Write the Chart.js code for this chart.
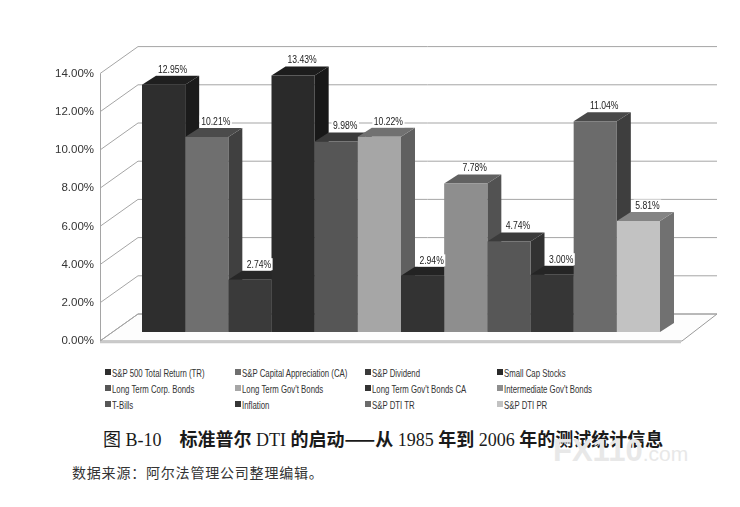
<!DOCTYPE html>
<html><head><meta charset="utf-8">
<script src="https://cdn.jsdelivr.net/npm/chart.js@4.4.0/dist/chart.umd.min.js"></script>
<style>
html,body{margin:0;padding:0;background:#fff;width:740px;height:507px;overflow:hidden;}
#wrap{position:relative;width:740px;height:507px;}
#c{position:absolute;left:0;top:0;}
.sq{position:absolute;width:6px;height:6px;}
.lt{position:absolute;font:11px "Liberation Sans",Arial,sans-serif;color:#333;white-space:nowrap;line-height:12px;transform:scaleX(0.71);transform-origin:0 50%;}
#cap{position:absolute;left:103px;top:425px;font-size:18px;font-family:"Liberation Serif","Noto Sans CJK SC",serif;color:#1a1a1a;white-space:nowrap;}
#cap b{font-family:"Noto Sans CJK SC",sans-serif;font-weight:700;}
#src{position:absolute;left:72px;top:462px;font:14px "Noto Sans CJK SC",sans-serif;color:#333;white-space:nowrap;letter-spacing:0.8px;}
#wm{position:absolute;left:553px;top:433px;font:bold 31px "Liberation Sans",Arial,sans-serif;color:#e8e8e8;white-space:nowrap;}
#wm span{font-size:21px;font-weight:normal;}
</style></head>
<body><div id="wrap">
<canvas id="c" width="740" height="350"></canvas>
<div id="legend"></div>
<div id="cap">图 B-10　<b>标准普尔</b> DTI <b>的启动——从</b> 1985 <b>年到</b> 2006 <b>年的测试统计信息</b></div>
<div id="src">数据来源：阿尔法管理公司整理编辑。</div>
<div id="wm">FX110<span>.com</span></div>
</div>
<script>
const seriesNames = ["S&P 500 Total Return (TR)","S&P Capital Appreciation (CA)","S&P Dividend","Small Cap Stocks",
  "Long Term Corp. Bonds","Long Term Gov't Bonds","Long Term Gov't Bonds CA","Intermediate Gov't Bonds",
  "T-Bills","Inflation","S&P DTI TR","S&P DTI PR"];
const seriesValues = [12.95,10.21,2.74,13.43,9.98,10.22,2.94,7.78,4.74,3.00,11.04,5.81];
const seriesColors = ['#2e2e2e','#6f6f6f','#3a3a3a','#2a2a2a','#565656','#a6a6a6','#333333','#8e8e8e','#575757','#363636','#6b6b6b','#c2c2c2'];
const categories = [''];
const yMin = 0, yMax = 14, yStep = 2;

function shade(hex, f){
  const n = parseInt(hex.slice(1),16);
  const r = Math.round(((n>>16)&255)*f), g = Math.round(((n>>8)&255)*f), b = Math.round((n&255)*f);
  return 'rgb('+r+','+g+','+b+')';
}

const DX = 14, DY = -9;          // bar depth
const WALL_DX = 38, WALL_DY = -27; // wall depth
const FRONT_OFF = 9;             // front plane below bar plane

const scene3d = {
  id:'scene3d',
  beforeDatasetsDraw(chart){
    const ctx = chart.ctx, ys = chart.scales.y, ca = chart.chartArea;
    const ax = ca.left - 20, rx = ca.right;
    const fy = v => ys.getPixelForValue(v) + FRONT_OFF;
    ctx.save();
    const f0 = fy(yMin);
    ctx.beginPath();
    ctx.moveTo(ax, f0); ctx.lineTo(rx, f0); ctx.lineTo(rx+WALL_DX-3, f0+WALL_DY);
    ctx.lineTo(ax+WALL_DX, f0+WALL_DY); ctx.closePath();
    ctx.fillStyle = '#fdfdfd'; ctx.fill();
    ctx.strokeStyle = '#9a9a9a'; ctx.lineWidth = 1; ctx.stroke();
    ctx.beginPath(); ctx.moveTo(ax, f0+1.5); ctx.lineTo(rx-1, f0+1.5);
    ctx.strokeStyle = '#c8c8c8'; ctx.lineWidth = 1.5; ctx.stroke();
    ctx.strokeStyle = '#a5a5a5'; ctx.lineWidth = 1;
    ys.ticks.forEach(t => {
      const y = fy(t.value);
      ctx.beginPath();
      ctx.moveTo(ax, y); ctx.lineTo(ax+WALL_DX, y+WALL_DY); ctx.lineTo(rx+WALL_DX-3, y+WALL_DY);
      ctx.stroke();
    });
    ctx.beginPath(); ctx.moveTo(ax+0.5, fy(yMin)); ctx.lineTo(ax+0.5, fy(yMax)); ctx.stroke();
    chart.data.datasets.forEach((ds, i) => {
      const el = chart.getDatasetMeta(i).data[0];
      const l = el.x - el.width/2, r = el.x + el.width/2, t = el.y, b = el.base;
      ctx.beginPath();
      ctx.moveTo(r, t); ctx.lineTo(r+DX, t+DY); ctx.lineTo(r+DX, b+DY); ctx.lineTo(r, b); ctx.closePath();
      ctx.fillStyle = shade(seriesColors[i], 0.58); ctx.fill();
      ctx.beginPath();
      ctx.moveTo(l, t); ctx.lineTo(r, t); ctx.lineTo(r+DX, t+DY); ctx.lineTo(l+DX, t+DY); ctx.closePath();
      ctx.fillStyle = shade(seriesColors[i], 0.68); ctx.fill();
    });
    ctx.restore();
  },
  afterDatasetsDraw(chart){
    const ctx = chart.ctx, SX = 0.82;
    ctx.save();
    ctx.font = '10.5px "Liberation Sans",Arial,sans-serif';
    ctx.textAlign = 'center'; ctx.textBaseline = 'alphabetic';
    chart.data.datasets.forEach((ds, i) => {
      const el = chart.getDatasetMeta(i).data[0];
      const txt = ds.data[0].toFixed(2) + '%';
      const x = el.x + DX/2 + 2, y = el.y + DY - 3;
      const w = ctx.measureText(txt).width * SX;
      ctx.fillStyle = '#fff';
      ctx.fillRect(x - w/2 - 1.5, y - 9.5, w + 3, 12);
      ctx.save();
      ctx.translate(x, y); ctx.scale(SX, 1);
      ctx.fillStyle = '#222';
      ctx.fillText(txt, 0, 0);
      ctx.restore();
    });
    ctx.restore();
  }
};

new Chart(document.getElementById('c'), {
  type:'bar',
  data:{
    labels: categories,
    datasets: seriesNames.map((n,i)=>({
      label:n, data:[seriesValues[i]], backgroundColor:seriesColors[i], borderWidth:0,
      categoryPercentage:0.9217, barPercentage:1
    }))
  },
  options:{
    responsive:false, animation:false,
    layout:{padding:{top:64.6,bottom:18,left:0,right:58}},
    plugins:{legend:{display:false},tooltip:{enabled:false}},
    scales:{
      x:{display:false},
      y:{min:yMin,max:yMax,
        afterFit(s){ s.width = 120; s.paddingTop = 0; s.paddingBottom = 0; },
        grid:{display:false,drawTicks:false}, border:{display:false},
        ticks:{stepSize:yStep,padding:26,labelOffset:FRONT_OFF,color:'#333',
          font:{family:'"Liberation Sans",Arial,sans-serif',size:11.5},
          callback:v=>v.toFixed(2)+'%'}
      }
    }
  },
  plugins:[scene3d]
});

const colX = [105,235,365,497], rowY = [367,383,399];
const lg = document.getElementById('legend');
seriesNames.forEach((n,i)=>{
  const x = colX[i%4], y = rowY[Math.floor(i/4)];
  const sq = document.createElement('div'); sq.className='sq';
  sq.style.left = x+'px'; sq.style.top = (y+2)+'px'; sq.style.background = seriesColors[i];
  const t = document.createElement('div'); t.className='lt';
  t.style.left = (x+7)+'px'; t.style.top = y+'px'; t.textContent = n;
  lg.appendChild(sq); lg.appendChild(t);
});
</script>
</body></html>
